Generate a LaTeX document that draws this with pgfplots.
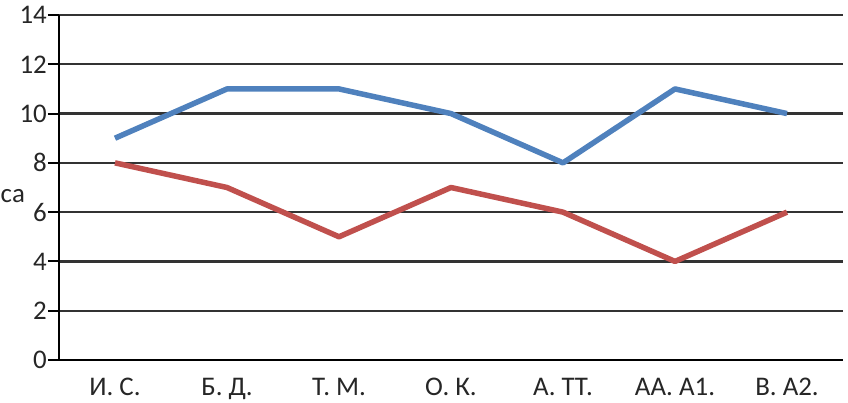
\documentclass[border=0pt]{standalone}
\usepackage{fontspec}
\setmainfont{Carlito}
\usepackage{pgfplots}
\pgfplotsset{compat=1.18}
\definecolor{serblue}{HTML}{4F81BD}
\definecolor{serred}{HTML}{C0504D}
\definecolor{gridc}{HTML}{333333}
\begin{document}
\begin{tikzpicture}
\begin{axis}[
  scale only axis,
  width=784bp, height=345bp,
  xmin=-0.5, xmax=6.5,
  ymin=0, ymax=14,
  ytick={0,2,...,14},
  axis x line*=bottom,
  axis y line*=left,
  axis line style={black, line width=2bp},
  ymajorgrids,
  major grid style={gridc, line width=2.2bp},
  xtick={0,...,6},
  xticklabels={И. С., Б. Д., Т. М., О. К., А. ТТ., АА. А1., В. А2.},
  x tick style={draw=none},
  extra x ticks={-0.5,0.5,...,6.5},
  extra x tick labels={},
  extra x tick style={grid=none, tick style={draw=black, line width=2bp}},
  tick align=outside,
  major tick length=11bp,
  y tick style={black, line width=2bp},
  yticklabel style={inner sep=1bp},
  xticklabel style={yshift=-3.5bp},
  tick label style={font=\fontsize{27}{31}\selectfont, text=black!85},
  /pgf/number format/assume math mode=true,
  clip=false,
]
\addplot[serblue, line width=5.5bp, line join=round] coordinates
  {(0,9) (1,11) (2,11) (3,10) (4,8) (5,11) (6,10)};
\addplot[serred, line width=5.5bp, line join=round] coordinates
  {(0,8) (1,7) (2,5) (3,7) (4,6) (5,4) (6,6)};
\node[anchor=west, inner sep=0pt, text=black!85, font=\fontsize{27}{31}\selectfont]
  at ([xshift=-58.5bp]rel axis cs:0,0.475) {са};
\end{axis}
\pgfresetboundingbox
\path[use as bounding box] ([shift={(-59bp,-42bp)}]current axis.south west)
  rectangle ([shift={(5bp,15bp)}]current axis.north east);
\end{tikzpicture}
\end{document}
